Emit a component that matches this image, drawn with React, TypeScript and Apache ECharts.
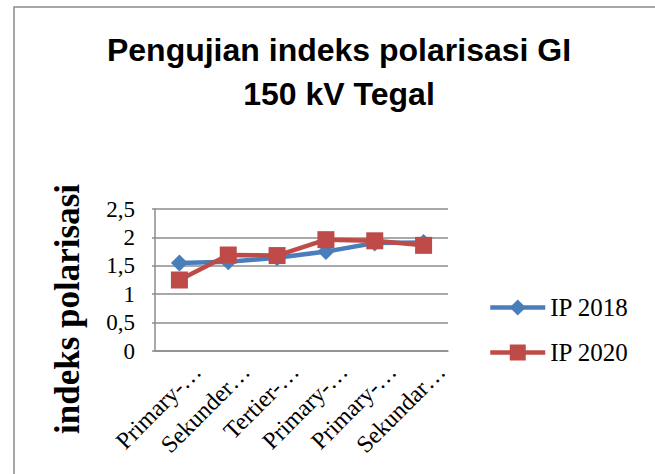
import React, { useEffect, useRef } from "react";
import * as echarts from "echarts";

const categories = ["Primary-…", "Sekunder…", "Tertier-…", "Primary-…", "Primary-…", "Sekundar…"];
const ip2018 = [1.55, 1.57, 1.64, 1.75, 1.9, 1.91];
const ip2020 = [1.25, 1.69, 1.68, 1.96, 1.94, 1.86];
const yTicks = [0, 0.5, 1, 1.5, 2, 2.5];
const titleText = "Pengujian indeks polarisasi GI\n150 kV Tegal";
const yAxisName = "indeks polarisasi";

const BLUE = "#4A7EBB";
const RED = "#BE4B48";
const GRID = "#8c8c8c";
const SERIF = "'Liberation Serif', 'Times New Roman', serif";
const SANS = "'Liberation Sans', Arial, sans-serif";

export default function App() {
  const ref = useRef<HTMLDivElement>(null);
  useEffect(() => {
    document.body.style.margin = "0";
    const chart = echarts.init(ref.current!, null, { renderer: "svg" });
    chart.setOption({
      animation: false,
      backgroundColor: "#ffffff",
      title: {
        text: titleText,
        left: 334,
        top: 23,
        textAlign: "center",
        textStyle: {
          fontFamily: SANS,
          fontWeight: "bold",
          fontSize: 32,
          lineHeight: 44,
          color: "#000",
        },
      },
      graphic: [
        {
          type: "rect",
          shape: { x: 14, y: 7, width: 700, height: 520 },
          style: { fill: "none", stroke: "#8a8a8a", lineWidth: 1.5 },
          silent: true,
        },
      ],
      legend: {
        orient: "vertical",
        left: 483,
        top: 290,
        itemWidth: 55,
        itemHeight: 20,
        itemGap: 20,
        lineStyle: { width: 4.5 },
        textStyle: { fontFamily: SERIF, fontSize: 25, color: "#000", lineHeight: 25 },
        data: ["IP 2018", "IP 2020"],
      },
      grid: { left: 155, top: 209, right: 207, bottom: 123, containLabel: false },
      xAxis: {
        type: "category",
        data: categories,
        boundaryGap: true,
        axisLine: { lineStyle: { color: GRID, width: 1.5 } },
        axisTick: { show: false },
        axisLabel: {
          rotate: 45,
          interval: 0,
          margin: -1,
          verticalAlign: "top",
          padding: [13, 0, 0, 0],
          lineHeight: 24,
          fontFamily: SERIF,
          fontSize: 24,
          color: "#000",
        },
      },
      yAxis: {
        type: "value",
        min: 0,
        max: 2.5,
        interval: 0.5,
        name: yAxisName,
        nameLocation: "middle",
        nameRotate: 90,
        nameGap: 70,
        nameTextStyle: {
          fontFamily: SERIF,
          fontWeight: "bold",
          fontSize: 35,
          color: "#000",
          padding: [0, 58, 0, 0],
        },
        axisLine: { show: true, lineStyle: { color: GRID, width: 1.5 } },
        axisTick: { show: true, length: 3, lineStyle: { color: GRID, width: 1.5 } },
        splitLine: { lineStyle: { color: GRID, width: 1.5 } },
        axisLabel: {
          margin: 20,
          fontFamily: SERIF,
          fontSize: 23,
          color: "#000",
          formatter: (v: number) => {
            const t = yTicks.find((x) => Math.abs(x - v) < 1e-9);
            return String(t ?? v).replace(".", ",");
          },
        },
      },
      series: [
        {
          name: "IP 2018",
          type: "line",
          data: ip2018,
          symbol: "diamond",
          symbolSize: 17,
          lineStyle: { color: BLUE, width: 4.5 },
          itemStyle: { color: BLUE },
        },
        {
          name: "IP 2020",
          type: "line",
          data: ip2020,
          symbol: "rect",
          symbolSize: 17,
          lineStyle: { color: RED, width: 4.5 },
          itemStyle: { color: RED },
        },
      ],
    });
    return () => chart.dispose();
  }, []);
  return <div ref={ref} style={{ width: 655, height: 474 }} />;
}
